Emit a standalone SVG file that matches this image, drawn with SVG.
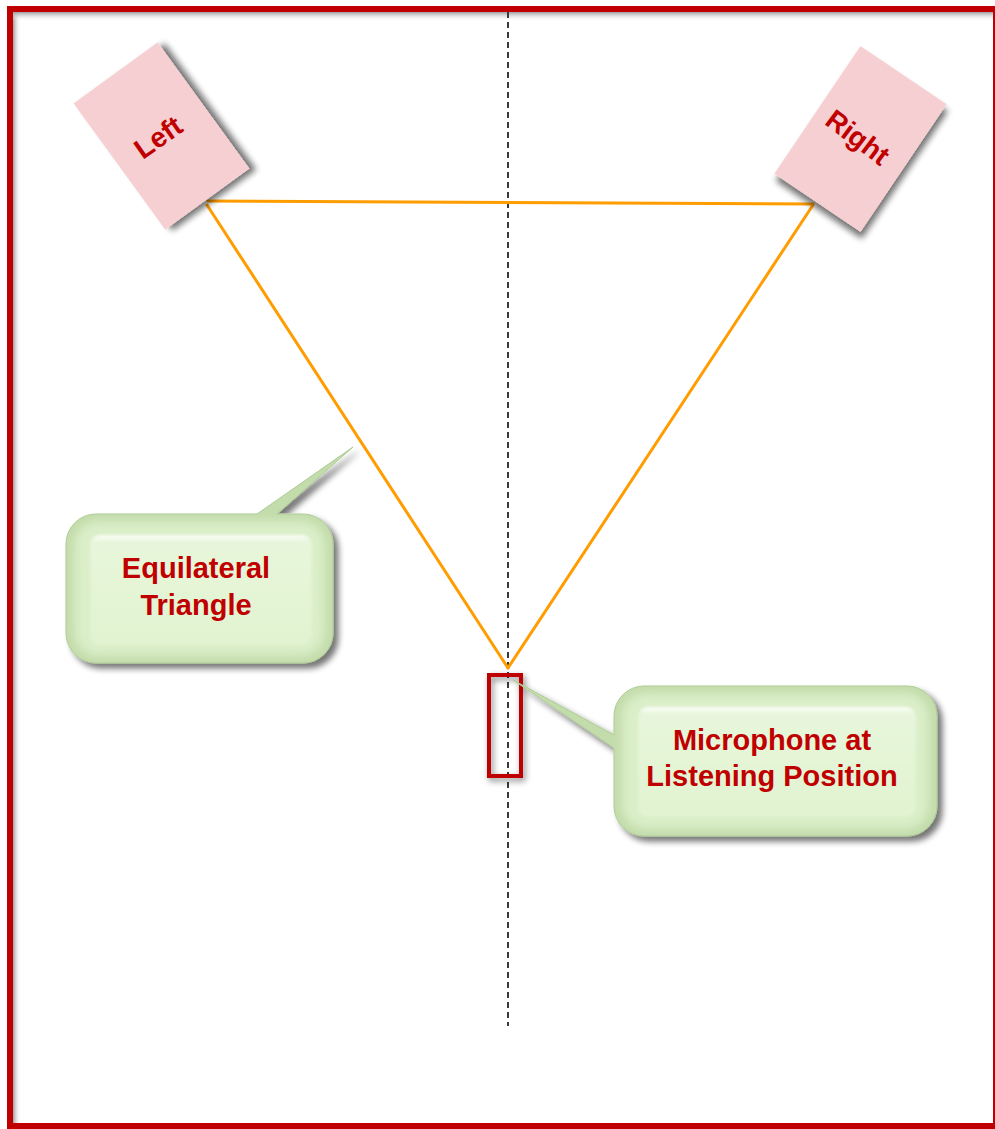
<svg xmlns="http://www.w3.org/2000/svg" width="995" height="1129" viewBox="0 0 995 1129">
<defs>
<style>
.lbl{font-family:"Liberation Sans",Arial,sans-serif;font-weight:bold;fill:#C00000;text-anchor:middle}
.tri{stroke:#FF9C00;stroke-width:3;fill:none;stroke-linecap:round}
.spk{fill:#F6CFD2}
.rim{fill:#C3DCAB;stroke:#AECB94;stroke-width:1}
.bev{fill:#DAEEC8}
.pan{fill:url(#ig)}
</style>
<filter id="sh" x="-30%" y="-30%" width="160%" height="160%">
<feGaussianBlur in="SourceAlpha" stdDeviation="3"/>
<feOffset dx="5" dy="5" result="b"/>
<feComponentTransfer><feFuncA type="linear" slope="0.55"/></feComponentTransfer>
<feMerge><feMergeNode/><feMergeNode in="SourceGraphic"/></feMerge>
</filter>
<filter id="sh2" x="-50%" y="-20%" width="200%" height="140%">
<feGaussianBlur in="SourceAlpha" stdDeviation="3"/>
<feOffset dx="2" dy="3" result="b"/>
<feComponentTransfer><feFuncA type="linear" slope="0.5"/></feComponentTransfer>
<feMerge><feMergeNode/><feMergeNode in="SourceGraphic"/></feMerge>
</filter>
<filter id="bl" x="-20%" y="-20%" width="140%" height="140%">
<feGaussianBlur stdDeviation="5"/>
</filter>
<filter id="bl2" x="-20%" y="-20%" width="140%" height="140%">
<feGaussianBlur stdDeviation="1.5"/>
</filter>
<linearGradient id="ig" x1="0" y1="0" x2="0" y2="1">
<stop offset="0" stop-color="#FFFFFF"/>
<stop offset="0.06" stop-color="#E7F6DA"/>
<stop offset="1" stop-color="#E1F3D1"/>
</linearGradient>
<linearGradient id="lg" x1="0" y1="0" x2="1" y2="0">
<stop offset="0" stop-color="#A0A0A0"/>
<stop offset="1" stop-color="#FFFFFF" stop-opacity="0"/>
</linearGradient>
<linearGradient id="tg" x1="0" y1="0" x2="0" y2="1">
<stop offset="0" stop-color="#A0A0A0"/>
<stop offset="1" stop-color="#FFFFFF" stop-opacity="0"/>
</linearGradient>
</defs>
<rect x="0" y="0" width="995" height="1129" fill="#FFFFFF"/>
<g id="frame">
<rect x="13" y="12" width="8" height="1111" fill="url(#lg)"/>
<rect x="13" y="12" width="980" height="9" fill="url(#tg)"/>
<rect x="10" y="9" width="986" height="1117" fill="none" stroke="#C00000" stroke-width="6"/>
</g>
<g id="connectors">
<line x1="508" y1="12" x2="508" y2="1026" stroke="#3A3A3A" stroke-width="2" stroke-dasharray="6,4"/>
<line class="tri" x1="208" y1="201" x2="813" y2="204"/>
<line class="tri" x1="207" y1="205" x2="508" y2="668"/>
<line class="tri" x1="813" y1="205" x2="508" y2="668"/>
</g>
<g id="left-speaker">
<rect class="spk" filter="url(#sh)" transform="translate(161.5,136) rotate(-36)" x="-52" y="-78" width="104" height="156"/>
<text class="lbl" font-size="28" transform="translate(158,137) rotate(-35)" x="0" y="10">Left</text>
</g>
<g id="right-speaker">
<rect class="spk" filter="url(#sh)" transform="translate(860.5,139) rotate(34)" x="-52" y="-77" width="104" height="154"/>
<text class="lbl" font-size="28" transform="translate(858,137) rotate(37)" x="0" y="10">Right</text>
</g>
<g id="microphone" filter="url(#sh2)">
<rect x="489" y="675" width="32" height="101" fill="none" stroke="#C00000" stroke-width="4"/>
</g>
<g id="callout-triangle">
<path class="rim" filter="url(#sh)" d="M96,514 H257 L353,447 L277,514 H303 A30,30 0 0 1 333,544 V633 A30,30 0 0 1 303,663 H96 A30,30 0 0 1 66,633 V544 A30,30 0 0 1 96,514 Z"/>
<rect class="bev" filter="url(#bl)" x="74" y="521" width="251" height="135" rx="24"/>
<rect class="pan" filter="url(#bl2)" x="90" y="535" width="222" height="110" rx="10"/>
<text class="lbl" font-size="29"><tspan x="196" y="578">Equilateral</tspan><tspan x="196" y="615">Triangle</tspan></text>
</g>
<g id="callout-microphone">
<path class="rim" filter="url(#sh)" d="M644,686 H907 A30,30 0 0 1 937,716 V806 A30,30 0 0 1 907,836 H644 A30,30 0 0 1 614,806 V748 L513,680 L614,735 V716 A30,30 0 0 1 644,686 Z"/>
<rect class="bev" filter="url(#bl)" x="622" y="693" width="307" height="136" rx="24"/>
<rect class="pan" filter="url(#bl2)" x="638" y="707" width="278" height="110" rx="10"/>
<text class="lbl" font-size="29"><tspan x="772" y="750">Microphone at</tspan><tspan x="772" y="786">Listening Position</tspan></text>
</g>
</svg>
